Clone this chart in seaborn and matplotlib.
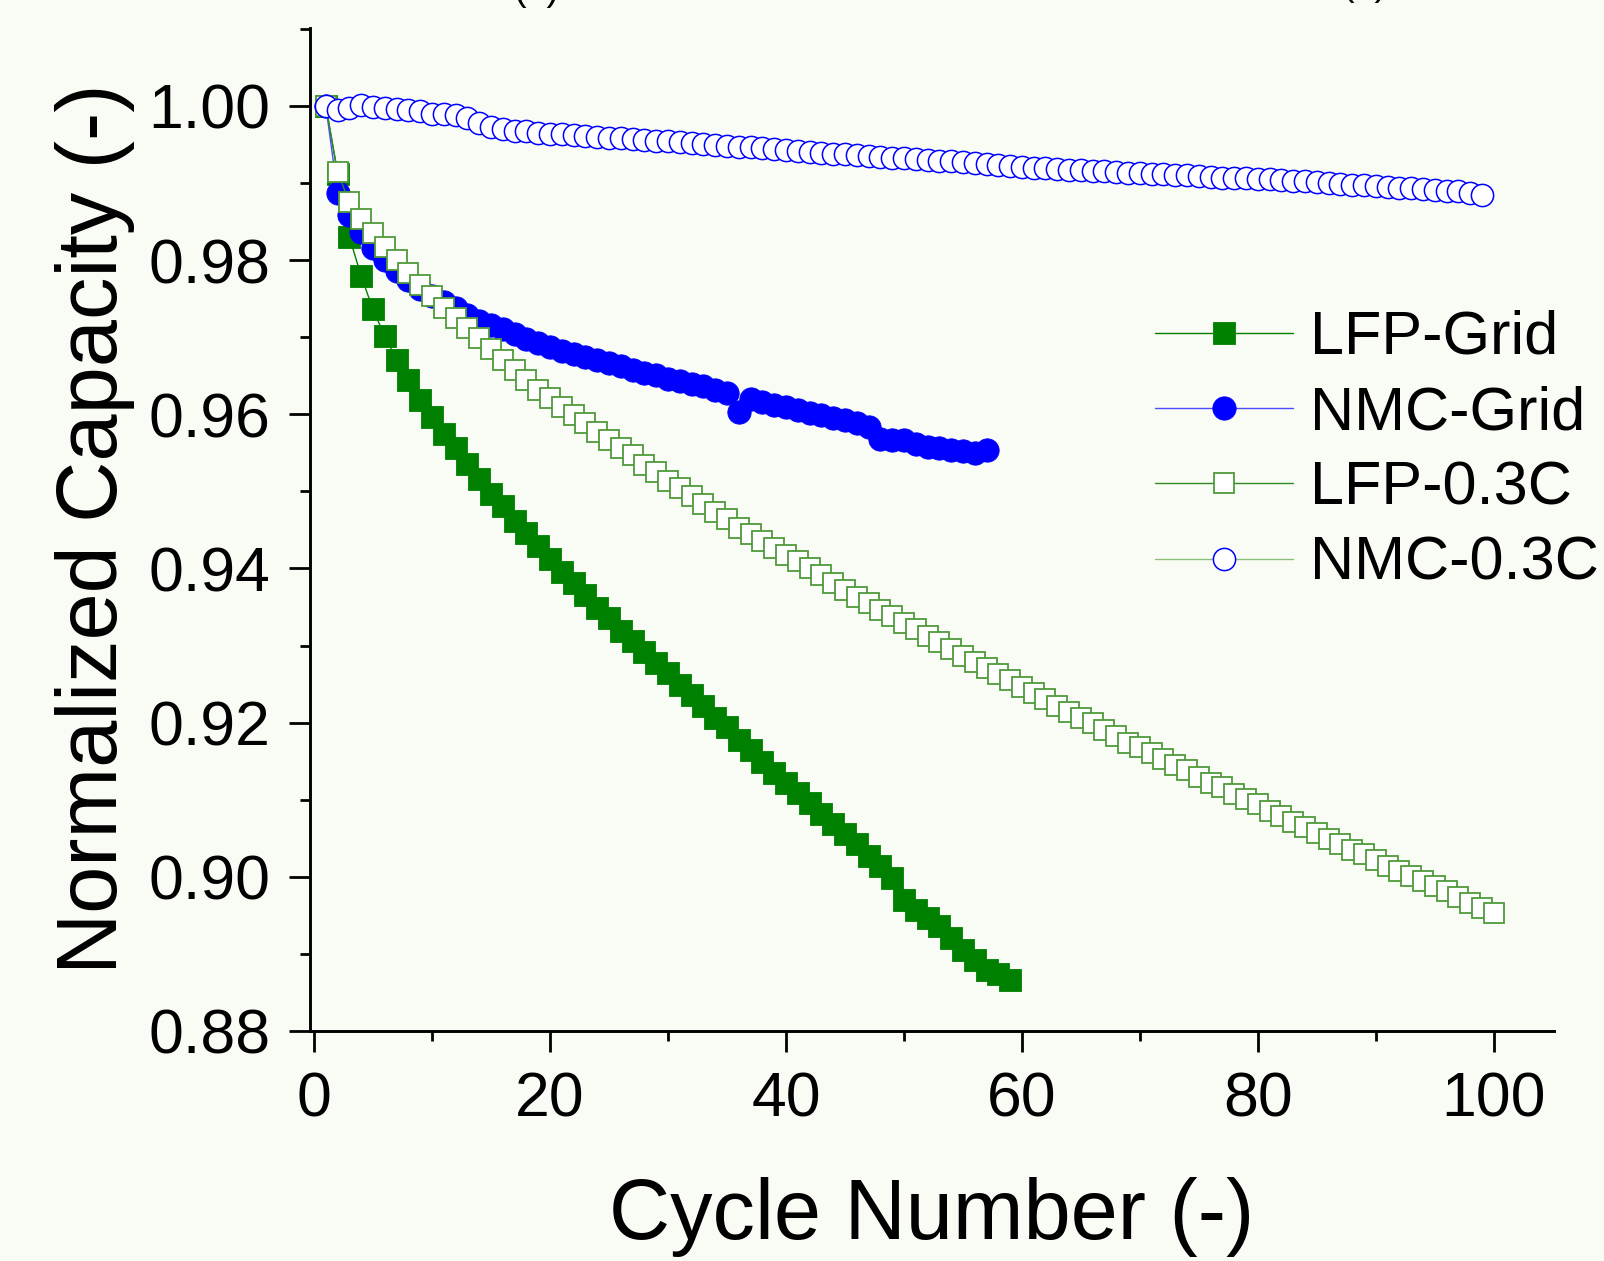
import matplotlib
matplotlib.use("Agg")
import matplotlib.pyplot as plt
from matplotlib.ticker import MultipleLocator, FormatStrFormatter
import seaborn as sns
import numpy as np

# ---------------- data ----------------
lfp_grid_cycles = list(range(1, 60))
lfp_grid = [1.0000, 0.9912, 0.9830, 0.9779, 0.9736, 0.9701, 0.9671, 0.9645, 0.9619, 0.9596,
            0.9575, 0.9556, 0.9536, 0.9516, 0.9497, 0.9481, 0.9462, 0.9446, 0.9429, 0.9412,
            0.9395, 0.9381, 0.9366, 0.9349, 0.9336, 0.9319, 0.9306, 0.9291, 0.9277, 0.9264,
            0.9249, 0.9236, 0.9222, 0.9206, 0.9194, 0.9178, 0.9164, 0.9149, 0.9135, 0.9122,
            0.9109, 0.9096, 0.9082, 0.9068, 0.9055, 0.9042, 0.9027, 0.9014, 0.8999, 0.8970,
            0.8957, 0.8947, 0.8936, 0.8921, 0.8905, 0.8892, 0.8879, 0.8874, 0.8866]

nmc_grid_cycles = list(range(1, 58))
nmc_grid = [1.0000, 0.9887, 0.9859, 0.9837, 0.9816, 0.9800, 0.9786, 0.9774, 0.9763, 0.9754,
            0.9746, 0.9738, 0.9729, 0.9721, 0.9716, 0.9710, 0.9704, 0.9698, 0.9693, 0.9687,
            0.9682, 0.9678, 0.9674, 0.9670, 0.9666, 0.9662, 0.9658, 0.9654, 0.9651, 0.9646,
            0.9643, 0.9639, 0.9636, 0.9632, 0.9627, 0.9603, 0.9620, 0.9616, 0.9612, 0.9609,
            0.9606, 0.9602, 0.9599, 0.9595, 0.9592, 0.9588, 0.9583, 0.9568, 0.9567, 0.9566,
            0.9562, 0.9558, 0.9556, 0.9553, 0.9552, 0.9550, 0.9553]

lfp_03c_cycles = list(range(1, 101))
lfp_03c = [1.0000, 0.9914, 0.9875, 0.9853, 0.9835, 0.9817, 0.9800, 0.9783, 0.9768, 0.9753,
           0.9738, 0.9725, 0.9712, 0.9699, 0.9685, 0.9670, 0.9657, 0.9645, 0.9632, 0.9621,
           0.9609, 0.9599, 0.9588, 0.9577, 0.9566, 0.9556, 0.9547, 0.9534, 0.9525, 0.9513,
           0.9504, 0.9494, 0.9484, 0.9473, 0.9464, 0.9453, 0.9445, 0.9436, 0.9427, 0.9418,
           0.9409, 0.9400, 0.9391, 0.9381, 0.9372, 0.9363, 0.9355, 0.9346, 0.9338, 0.9329,
           0.9321, 0.9312, 0.9304, 0.9295, 0.9287, 0.9279, 0.9271, 0.9263, 0.9255, 0.9246,
           0.9238, 0.9230, 0.9221, 0.9214, 0.9206, 0.9199, 0.9191, 0.9183, 0.9174, 0.9168,
           0.9161, 0.9153, 0.9145, 0.9138, 0.9130, 0.9122, 0.9116, 0.9107, 0.9101, 0.9094,
           0.9086, 0.9079, 0.9071, 0.9064, 0.9057, 0.9049, 0.9042, 0.9035, 0.9029, 0.9022,
           0.9014, 0.9008, 0.9001, 0.8994, 0.8988, 0.8981, 0.8974, 0.8966, 0.8960, 0.8953]

nmc_03c_cycles = list(range(1, 100))
nmc_03c = [1.0000, 0.9994, 0.9997, 1.0001, 0.9999, 0.9997, 0.9996, 0.9995, 0.9993, 0.9990,
           0.9990, 0.9988, 0.9984, 0.9978, 0.9972, 0.9970, 0.9968, 0.9967, 0.9965, 0.9964,
           0.9964, 0.9962, 0.9961, 0.9959, 0.9958, 0.9958, 0.9957, 0.9956, 0.9955, 0.9954,
           0.9953, 0.9952, 0.9950, 0.9949, 0.9948, 0.9947, 0.9946, 0.9945, 0.9944, 0.9943,
           0.9941, 0.9940, 0.9939, 0.9938, 0.9937, 0.9936, 0.9935, 0.9934, 0.9933, 0.9932,
           0.9931, 0.9930, 0.9929, 0.9928, 0.9927, 0.9926, 0.9924, 0.9923, 0.9922, 0.9921,
           0.9920, 0.9919, 0.9918, 0.9917, 0.9917, 0.9916, 0.9915, 0.9914, 0.9913, 0.9913,
           0.9912, 0.9911, 0.9910, 0.9910, 0.9909, 0.9908, 0.9907, 0.9907, 0.9906, 0.9905,
           0.9905, 0.9904, 0.9903, 0.9902, 0.9901, 0.9900, 0.9899, 0.9898, 0.9897, 0.9896,
           0.9895, 0.9894, 0.9893, 0.9892, 0.9891, 0.9890, 0.9889, 0.9887, 0.9885]

series_names = ["LFP-Grid", "NMC-Grid", "LFP-0.3C", "NMC-0.3C"]
x_label = "Cycle Number (-)"
y_label = "Normalized Capacity (-)"

# ---------------- style ----------------
BG = "#f9fcf4"
sns.set_style("ticks")
plt.rcParams["font.family"] = ["Liberation Sans", "DejaVu Sans"]
plt.rcParams["text.color"] = "black"
plt.rcParams["axes.labelcolor"] = "black"
plt.rcParams["xtick.color"] = "black"
plt.rcParams["ytick.color"] = "black"

W, H, DPI = 1604, 1261, 100
fig = plt.figure(figsize=(W / DPI, H / DPI), dpi=DPI, facecolor=BG)
ax = fig.add_axes([310 / W, 1 - 1031 / H, (1554 - 310) / W, (1031 - 28) / H])
ax.set_facecolor(BG)

styles = [
    dict(marker="s", ms=15.6, color="#008000", mfc="#008000", mec="#008000", mew=0.6, lw=1.0),
    dict(marker="o", ms=16.8, color="#4b4bff", mfc="#0000ff", mec="#0000ff", mew=0.6, lw=1.0),
    dict(marker="s", ms=14.0, color="#2f8a23", mfc="white", mec="#4f9a3a", mew=1.3, lw=1.0),
    dict(marker="o", ms=16.0, color="#8cc07a", mfc="white", mec="#0000ff", mew=1.1, lw=1.0),
]
data = [(lfp_grid_cycles, lfp_grid), (nmc_grid_cycles, nmc_grid),
        (lfp_03c_cycles, lfp_03c), (nmc_03c_cycles, nmc_03c)]

for (xs, ys), st, name in zip(data, styles, series_names):
    sns.lineplot(x=xs, y=ys, ax=ax, label=name, sort=False, **st)

ax.set_xlim(-0.34, 105.1)
ax.set_ylim(0.88, 1.0101)
ax.xaxis.set_major_locator(MultipleLocator(20))
ax.xaxis.set_minor_locator(MultipleLocator(10))
ax.yaxis.set_major_locator(MultipleLocator(0.02))
ax.yaxis.set_minor_locator(MultipleLocator(0.01))
ax.yaxis.set_major_formatter(FormatStrFormatter("%.2f"))

for s in ["top", "right"]:
    ax.spines[s].set_visible(False)
for s in ["left", "bottom"]:
    ax.spines[s].set_linewidth(2.1)
    ax.spines[s].set_color("black")

ax.tick_params(axis="both", which="major", direction="out", length=15, width=2.0,
               labelsize=45, pad=13.5, colors="black")
ax.tick_params(axis="both", which="minor", direction="out", length=7, width=2.0, colors="black")
ax.set_xlabel("")
ax.set_ylabel("")

fig.text(932 / W, 1 - 1239 / H, x_label, fontsize=61, ha="center", va="baseline", color="black")
fig.text(117 / W, 1 - 529 / H, y_label, fontsize=61, ha="center", va="baseline",
         rotation=90, rotation_mode="anchor", color="black")

handles = ax.get_lines()[:4]
leg = ax.legend(handles, series_names, loc="upper left",
                bbox_to_anchor=(1155 / W, 1 - 310 / H), bbox_transform=fig.transFigure,
                frameon=False, fontsize=44, handlelength=2.26, handletextpad=0.27,
                labelspacing=0.3, borderpad=0, borderaxespad=0)
for t in leg.get_texts():
    t.set_color("black")

# partially cropped panel labels at the image edges (as in the source crop)
fig.text(537 / W, 1.0, "(a)", fontsize=27, ha="center", va="baseline", color="black")
fig.text(1365 / W, 1 + 5 / H, "(b)", fontsize=27, ha="center", va="baseline", color="black")
fig.text(3 / W, 1 - 1212 / H, "(c)", fontsize=27, ha="right", va="baseline", color="black")

fig.savefig("out.png", dpi=DPI, facecolor=BG)
